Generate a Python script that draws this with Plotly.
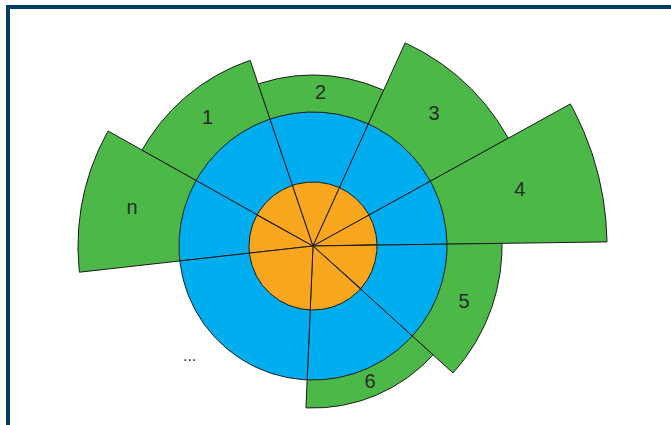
import numpy as np
import plotly.graph_objects as go

# sectors, counter-clockwise angles in degrees (0 = east)
labels = ["n", "1", "2", "3", "4", "5", "6", "..."]
start_deg = [150.7, 108.7, 65.6, 28.9, 0.8, -42.2, -92.5, 186.4]
end_deg = [186.4, 150.7, 108.7, 65.6, 28.9, 0.8, -42.2, 267.5]
outer_r = [235, 196, 171, 223, 294, 189, 162, None]  # None = no green part
core_r = 64
ring_r = 134
gap_label_r = 166
gap_label_deg = 222

GREEN = "#4cb848"
BLUE = "#00aeef"
ORANGE = "#f7a61e"
NAVY = "#003d5e"


def wedge(a0, a1, r):
    t = np.radians(np.linspace(a0, a1, 80))
    x = np.concatenate([[0], r * np.cos(t), [0]])
    y = np.concatenate([[0], r * np.sin(t), [0]])
    return x, y


fig = go.Figure()

for radius, colour, layer in [(None, GREEN, "outer"), (ring_r, BLUE, "ring"), (core_r, ORANGE, "core")]:
    for lab, a0, a1, ro in zip(labels, start_deg, end_deg, outer_r):
        r = ro if layer == "outer" else radius
        if r is None:
            continue
        x, y = wedge(a0, a1, r)
        fig.add_trace(go.Scatter(
            x=x, y=y, mode="lines", fill="toself", fillcolor=colour,
            line=dict(color="#1a1a1a", width=1), hoverinfo="skip"))

# labels in the middle of the green band
lx, ly = [], []
for a0, a1, ro in zip(start_deg, end_deg, outer_r):
    if ro is None:
        mid, rr = np.radians(gap_label_deg), gap_label_r
    else:
        mid, rr = np.radians((a0 + a1) / 2), (ring_r + ro) / 2
    lx.append(rr * np.cos(mid))
    ly.append(rr * np.sin(mid))

fig.add_trace(go.Scatter(
    x=lx[:-1], y=ly[:-1], mode="text", text=labels[:-1],
    textfont=dict(family="Liberation Sans Narrow, Arial Narrow, sans-serif", size=20, color="#2a2a2a"),
    hoverinfo="skip"))
fig.add_trace(go.Scatter(
    x=lx[-1:], y=ly[-1:], mode="text", text=labels[-1:],
    textfont=dict(family="DejaVu Sans, sans-serif", size=14, color="#222222"),
    hoverinfo="skip"))

fig.update_layout(
    width=671, height=425,
    margin=dict(l=0, r=0, t=0, b=0),
    paper_bgcolor="white", plot_bgcolor="white",
    showlegend=False,
    xaxis=dict(range=[-313, 358], visible=False, fixedrange=True),
    yaxis=dict(range=[-179, 246], visible=False, fixedrange=True),
    shapes=[dict(type="rect", xref="paper", yref="paper",
                 x0=8 / 671, x1=1.05, y0=-0.05, y1=1 - 7 / 425,
                 line=dict(color=NAVY, width=4))],
)

fig.write_html("out.html", config={"displayModeBar": False},
               post_script="document.body.style.margin='0';")
